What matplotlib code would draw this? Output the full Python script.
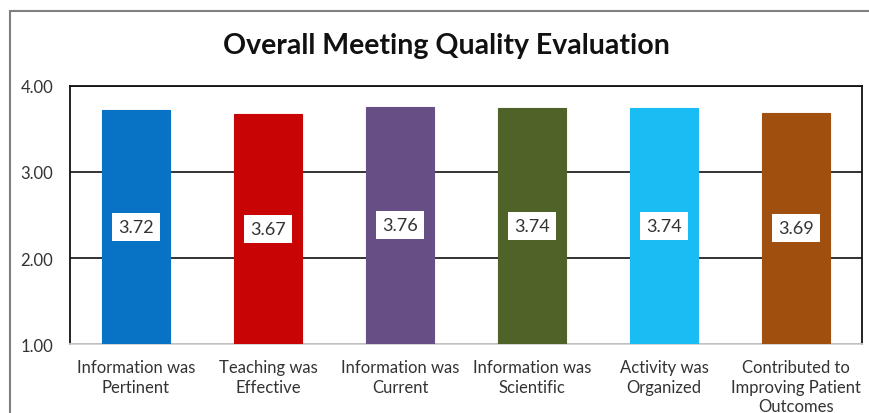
import matplotlib
matplotlib.use("Agg")
import matplotlib.pyplot as plt
from matplotlib.patches import Rectangle

categories = ["Information was\nPertinent", "Teaching was\nEffective", "Information was\nCurrent",
              "Information was\nScientific", "Activity was\nOrganized", "Contributed to\nImproving Patient\nOutcomes"]
values = [3.72, 3.67, 3.76, 3.74, 3.74, 3.69]
colors = ["#0873C4", "#C80404", "#674E85", "#4F6228", "#1ABCF4", "#A14F0E"]
yticks = [1.0, 2.0, 3.0, 4.0]

plt.rcParams['font.family'] = ['Lato', 'DejaVu Sans']

fig = plt.figure(figsize=(8.7, 4.14), dpi=100)
W, H = 870, 414
ax = fig.add_axes([70 / W, 1 - 345 / H, (862 - 70) / W, (345 - 87) / H])

# outer frame
fig.patches.append(Rectangle((10 / W, -0.1), 1.0, 1 - 12 / H + 0.1, transform=fig.transFigure,
                             fill=False, edgecolor="#7F7F7F", linewidth=1.5))

x = range(len(values))
base = 1.0
ax.bar(x, [v - base for v in values], bottom=base, width=0.51, color=colors,
       edgecolor=[c for c in colors], linewidth=0.8, zorder=3)
for i, v in enumerate(values):
    ax.text(i, (base + v) / 2, f"{v:.2f}", ha="center", va="center", fontsize=13, color="#333333",
            bbox=dict(boxstyle="square,pad=0.33", facecolor="white", edgecolor="none"), zorder=4)

ax.set_xlim(-0.5, len(values) - 0.5)
ax.set_ylim(1.0, 4.0)
ax.set_yticks(yticks)
ax.set_yticklabels([f"{t:.2f}" for t in yticks], fontsize=12, color="#333333")
ax.yaxis.grid(True, color="#222222", linewidth=1.3, zorder=0)
ax.set_xticks(list(x))
ax.set_xticklabels(categories, fontsize=12, color="#333333", linespacing=1.25)
ax.tick_params(axis="both", length=0)
ax.tick_params(axis="y", pad=12)
ax.tick_params(axis="x", pad=11)
for s in ["top", "left", "right"]:
    ax.spines[s].set_color("#111111")
    ax.spines[s].set_linewidth(1.3)
ax.spines["bottom"].set_color("#D0D0D0")
ax.spines["bottom"].set_linewidth(1.3)

fig.text(446 / W, 1 - 46 / H, "Overall Meeting Quality Evaluation", ha="center", va="center",
         fontsize=20.5, fontweight="bold", color="#111111")

fig.savefig("out.png", dpi=100)
